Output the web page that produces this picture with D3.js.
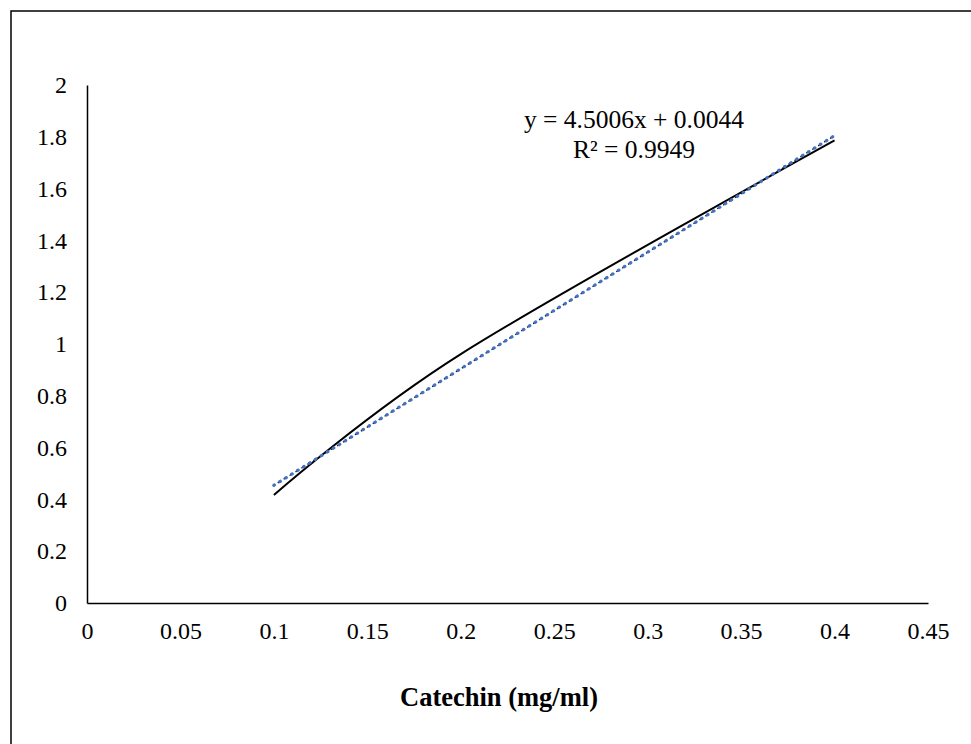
<!DOCTYPE html>
<html>
<head>
<meta charset="utf-8">
<script src="https://cdn.jsdelivr.net/npm/d3@7"></script>
<style>
    body { margin: 0; background: #fff; }
    svg text { font-family: "Liberation Serif", "Times New Roman", serif; fill: #000; }
</style>
</head>
<body>
<svg id="chart"></svg>
<script>
const concentration = [0.1, 0.2, 0.4];
const absorbance = [0.417, 0.961, 1.786];
const xTicks = [0, 0.05, 0.1, 0.15, 0.2, 0.25, 0.3, 0.35, 0.4, 0.45];
const yTicks = [0, 0.2, 0.4, 0.6, 0.8, 1, 1.2, 1.4, 1.6, 1.8, 2];
const trendSlope = 4.5006;
const trendIntercept = 0.0044;
const trendLabel = ["y = 4.5006x + 0.0044", "R² = 0.9949"];
const xTitle = "Catechin (mg/ml)";

const width = 971;
const height = 744;

const svg = d3.select("#chart")
    .attr("width", width)
    .attr("height", height);

// chart frame (runs off the page at right and bottom)
svg.append("rect")
    .attr("x", 11).attr("y", 11)
    .attr("width", 980).attr("height", 760)
    .attr("fill", "none")
    .attr("stroke", "#000")
    .attr("stroke-width", 1.5);

const x = d3.scaleLinear().domain([0, 0.45]).range([87, 928]);
const y = d3.scaleLinear().domain([0, 2]).range([603, 85]);

// x axis
const xAxis = svg.append("g")
    .attr("transform", `translate(0,${y(0)})`)
    .call(d3.axisBottom(x).tickValues(xTicks).tickSize(0).tickPadding(19).tickFormat(d => d));
xAxis.select(".domain").attr("stroke", "#000").attr("stroke-width", 1.5);
xAxis.selectAll("text").attr("font-size", 24).attr("font-family", "Liberation Serif");

// y axis
const yAxis = svg.append("g")
    .attr("transform", `translate(${x(0)},0)`)
    .call(d3.axisLeft(y).tickValues(yTicks).tickSize(0).tickPadding(20).tickFormat(d => d));
yAxis.select(".domain").attr("stroke", "#000").attr("stroke-width", 1.5);
yAxis.selectAll("text").attr("font-size", 24).attr("font-family", "Liberation Serif");

const points = concentration.map((c, i) => [c, absorbance[i]]);

// smoothed data line
const line = d3.line()
    .x(d => x(d[0]))
    .y(d => y(d[1]))
    .curve(d3.curveCatmullRom.alpha(0));

svg.append("path")
    .datum(points)
    .attr("fill", "none")
    .attr("stroke", "#000")
    .attr("stroke-width", 2)
    .attr("d", line);

// linear trendline
const [x0, x1] = d3.extent(concentration);
const trend = [[x0, trendSlope * x0 + trendIntercept], [x1, trendSlope * x1 + trendIntercept]];
const straight = d3.line().x(d => x(d[0])).y(d => y(d[1]));

svg.append("path")
    .datum(trend)
    .attr("fill", "none")
    .attr("stroke", "#111")
    .attr("stroke-width", 1.4)
    .attr("stroke-dasharray", "2.5,4.5")
    .attr("stroke-dashoffset", -4.5)
    .attr("d", straight);

svg.append("path")
    .datum(trend)
    .attr("fill", "none")
    .attr("stroke", "#4472C4")
    .attr("stroke-width", 3.2)
    .attr("stroke-linecap", "round")
    .attr("stroke-dasharray", "0.6,6.4")
    .attr("d", straight);

// trendline equation
svg.append("text")
    .attr("x", 634).attr("y", 128)
    .attr("text-anchor", "middle")
    .attr("font-size", 25.5)
    .selectAll("tspan")
    .data(trendLabel)
    .enter()
    .append("tspan")
    .attr("x", 634)
    .attr("dy", (d, i) => i === 0 ? 0 : 29.5)
    .text(d => d);

// axis title
svg.append("text")
    .attr("x", 499).attr("y", 706)
    .attr("text-anchor", "middle")
    .attr("font-size", 26.5)
    .attr("font-weight", "bold")
    .text(xTitle);
</script>
</body>
</html>
